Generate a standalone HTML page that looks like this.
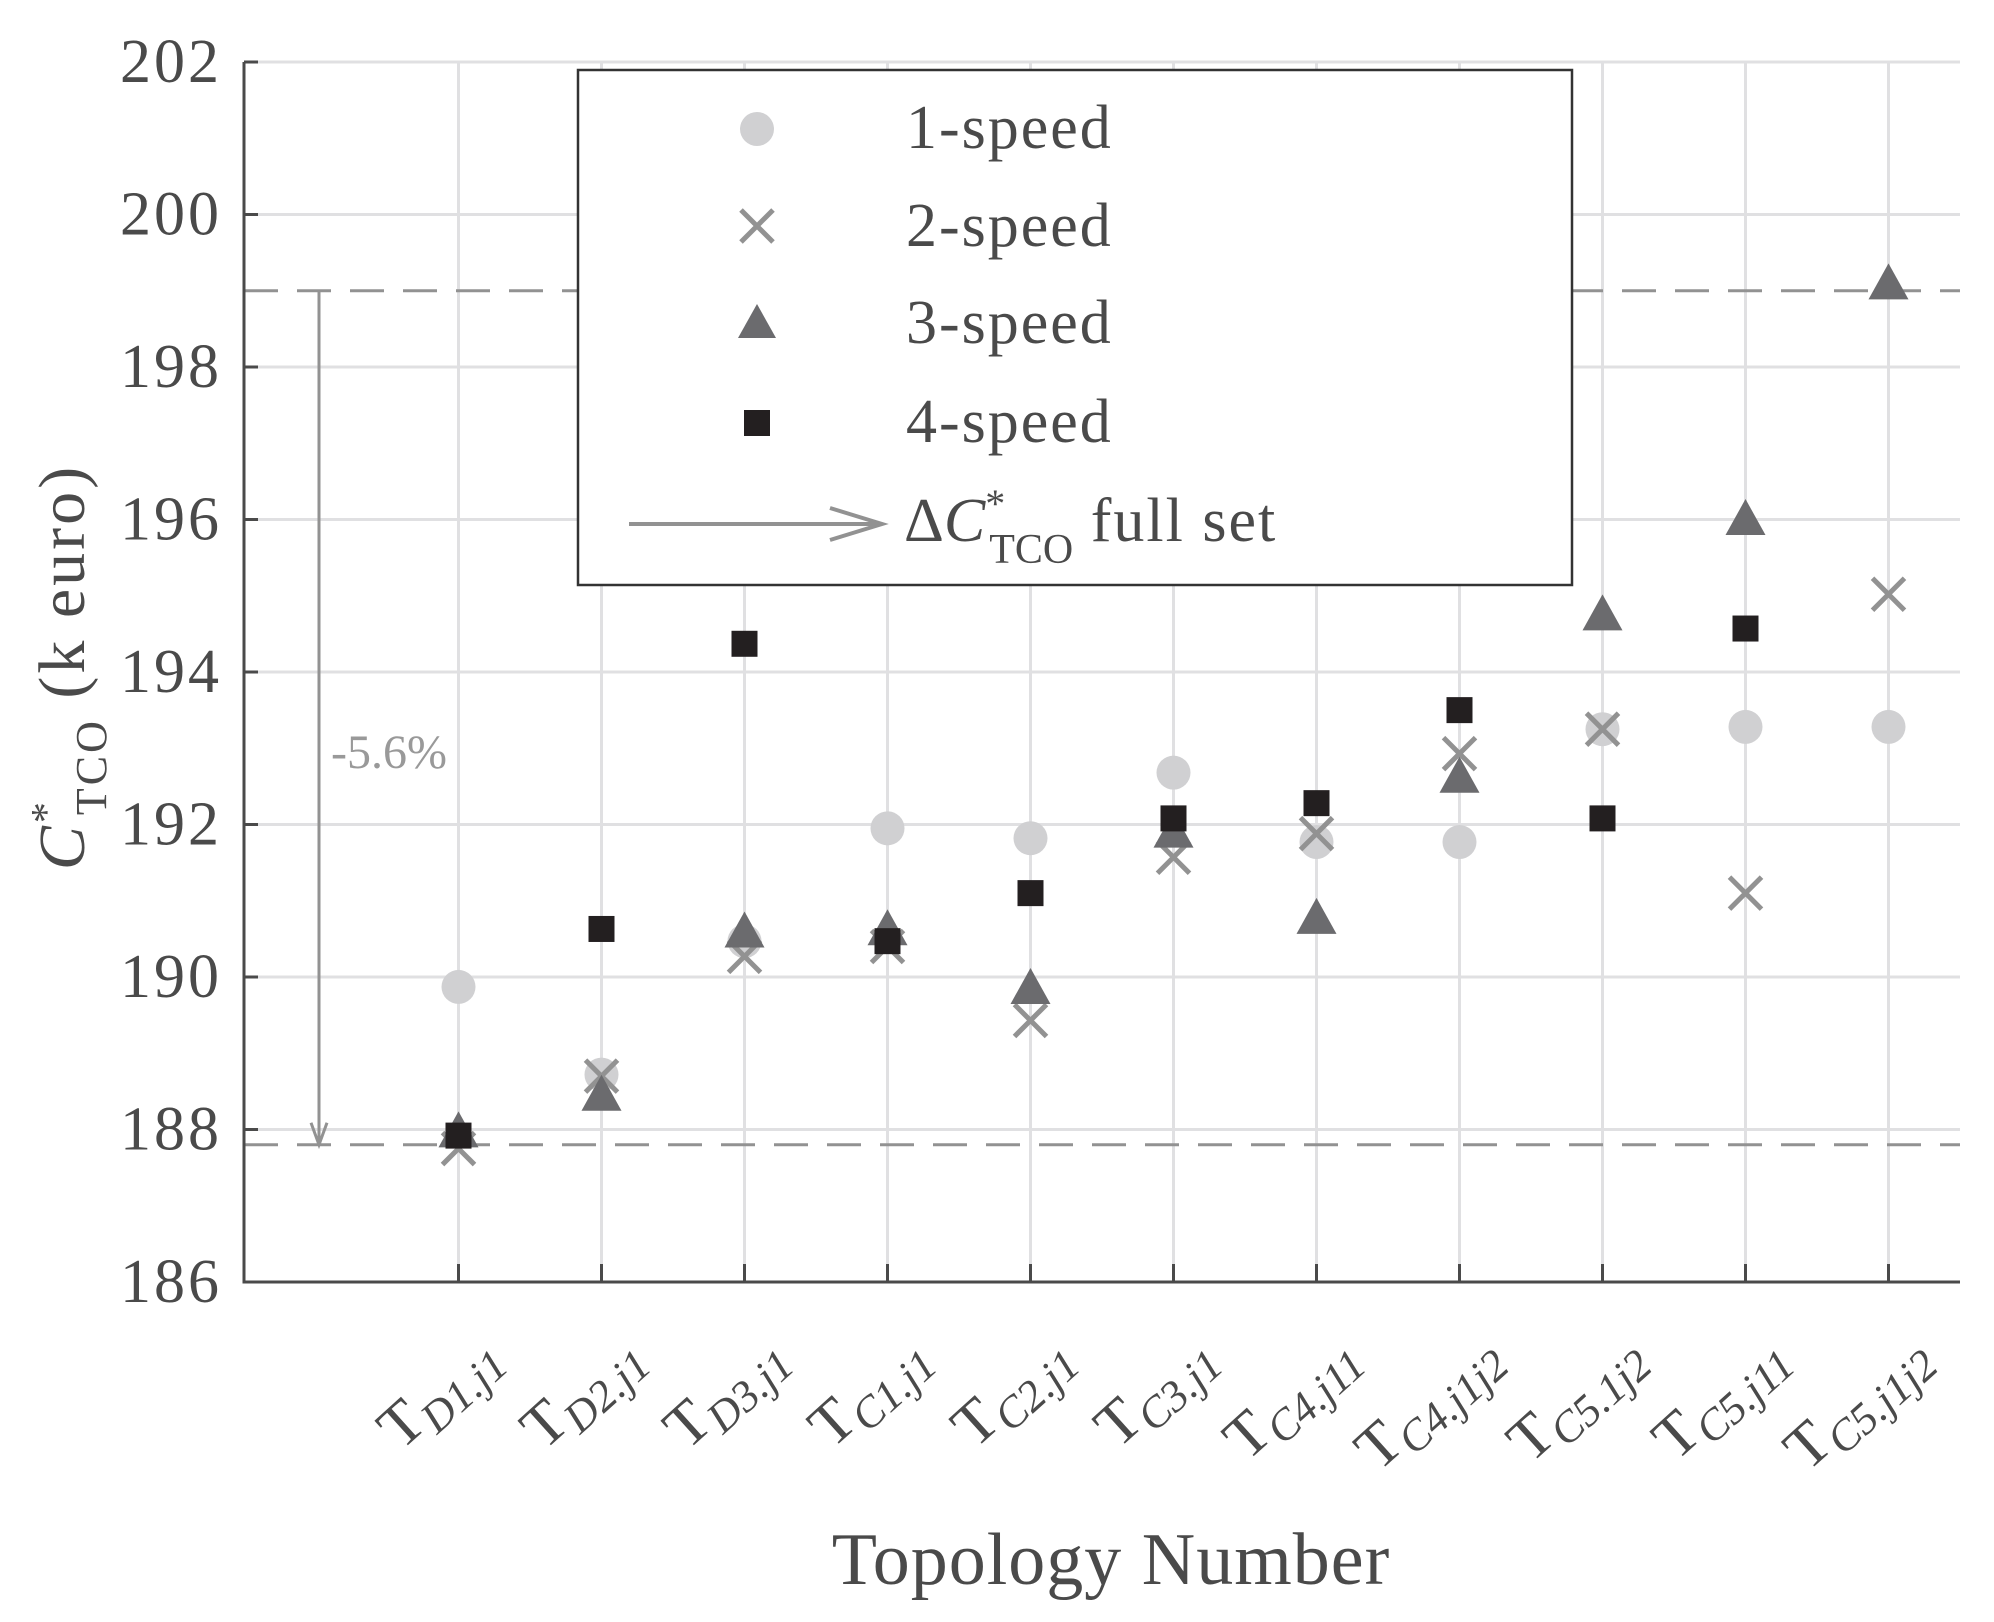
<!DOCTYPE html>
<html><head><meta charset="utf-8"><style>
body{margin:0;background:#fff}
svg text{font-family:"Liberation Serif",serif;fill:#4a4a4a}
</style></head><body>
<svg id="chart" width="1994" height="1617" viewBox="0 0 1994 1617" xmlns="http://www.w3.org/2000/svg">
<g id="grid"></g>
<g id="axes"></g>
<g id="marks"></g>
<g id="legend">
<rect x="578" y="70" width="994" height="515" fill="#fff" stroke="#333" stroke-width="2.5"/>
<circle cx="757" cy="129" r="17" fill="#d0d0d2"/>
<text x="906" y="148" font-size="62" letter-spacing="2">1-speed</text>
<path d="M741 210 L773 242 M773 210 L741 242" stroke="#929292" stroke-width="5"/>
<text x="906" y="246" font-size="62" letter-spacing="2">2-speed</text>
<path d="M757 304 L776 338 L738 338 Z" fill="#6b6b6e"/>
<text x="906" y="343" font-size="62" letter-spacing="2">3-speed</text>
<rect x="744" y="410" width="26" height="26" fill="#231f20"/>
<text x="906" y="442" font-size="62" letter-spacing="2">4-speed</text>
<path d="M629 524 L880 524 M830 508 L882 524 L830 540" stroke="#929292" stroke-width="4" fill="none"/>
<text x="904" y="541" font-size="62">Δ<tspan font-style="italic">C</tspan><tspan font-size="40" dy="-24">*</tspan><tspan font-size="42" dx="-16" dy="46">TCO</tspan><tspan dy="-22" letter-spacing="2"> full set</tspan></text>
</g>
</svg>
<script>
const categories=["D1.j1","D2.j1","D3.j1","C1.j1","C2.j1","C3.j1","C4.j11","C4.j1j2","C5.1j2","C5.j11","C5.j1j2"];
const speed1=[189.87,188.72,190.47,191.95,191.82,192.68,191.77,191.77,193.25,193.28,193.28];
const speed2=[187.75,188.7,190.27,190.4,189.43,191.57,191.88,192.93,193.25,191.1,195.02];
const speed3=[187.95,188.43,190.57,190.6,189.83,191.88,190.75,192.6,194.73,195.98,199.07];
const speed4=[187.92,190.63,194.37,190.47,191.1,192.08,192.28,193.5,192.08,194.57,null];
const yTicks=[186,188,190,192,194,196,198,200,202];
const refLines=[199.0,187.8];
const NS="http://www.w3.org/2000/svg";
const X0=244,X1=1960,Y0=1282,Y1=62,YMIN=186,YMAX=202,IMIN=-1.5,IMAX=10.5;
const xs=i=>X0+(i-IMIN)/(IMAX-IMIN)*(X1-X0);
const ys=v=>Y0-(v-YMIN)/(YMAX-YMIN)*(Y0-Y1);
function mk(tag,attrs,parent){const e=document.createElementNS(NS,tag);for(const k in attrs)e.setAttribute(k,attrs[k]);parent.appendChild(e);return e;}
const grid=document.getElementById('grid'),axes=document.getElementById('axes'),marks=document.getElementById('marks');
yTicks.forEach(t=>{
 const l=mk('line',{x1:X0,x2:X1,y1:ys(t),y2:ys(t),stroke:'#e0e0e2','stroke-width':3},grid);
 
 
 const tk=mk('line',{x1:X0,x2:X0+14,y1:ys(t),y2:ys(t),stroke:'#4a4a4a','stroke-width':3},axes);
 
 
 const tx=mk('text',{x:222,y:ys(t)+20,'text-anchor':'end','font-size':62,'letter-spacing':3},axes);
 tx.textContent=t;
 
 
});
categories.forEach((c,i)=>{
 const x=xs(i);
 const l=mk('line',{x1:x,x2:x,y1:Y1,y2:Y0,stroke:'#e0e0e2','stroke-width':3},grid);
 
 
 const tk=mk('line',{x1:x,x2:x,y1:Y0-18,y2:Y0,stroke:'#4a4a4a','stroke-width':3},axes);
 
 
 const tx=mk('text',{x:x+44,y:1360,'text-anchor':'end','font-size':62,transform:`rotate(-42 ${x+44} 1360)`},axes);
 tx.innerHTML='T<tspan font-style="italic" font-size="44" dy="12">'+c+'</tspan>';
 
 
});
refLines.forEach(v=>{
 const l=mk('line',{x1:X0,x2:X1,y1:ys(v),y2:ys(v),stroke:'#929292','stroke-width':3,'stroke-dasharray':'34 19'},grid);
 
 
});
const ax=mk('path',{d:`M${X0} ${Y1} L${X0} ${Y0} L${X1} ${Y0}`,stroke:'#4a4a4a','stroke-width':3,fill:'none'},axes);


const ay1=ys(refLines[0]),ay2=ys(refLines[1]);
const ar=mk('path',{d:`M319 ${ay1} L319 ${ay2} M311 ${ay2-22} L319 ${ay2} L327 ${ay2-22}`,stroke:'#929292','stroke-width':3,fill:'none'},axes);


const pct=mk('text',{x:331,y:768,'font-size':48,style:'fill:#999'},axes);
pct.textContent='-5.6%';


const yt=mk('text',{x:0,y:0,'text-anchor':'middle','font-size':66,'letter-spacing':3,transform:'translate(84 667) rotate(-90)'},axes);
yt.innerHTML='<tspan font-style="italic">C</tspan><tspan font-size="42" dy="-24">*</tspan><tspan font-size="44" dx="-16" dy="46">TCO</tspan><tspan dy="-22"> (k euro)</tspan>';


const xt=mk('text',{x:1111,y:1584,'text-anchor':'middle','font-size':74,'letter-spacing':1},axes);
xt.textContent='Topology Number';


speed1.forEach((v,i)=>{if(v==null)return;
 const e=mk('circle',{cx:xs(i),cy:ys(v),r:17,fill:'#d0d0d2'},marks);
 
 });
speed2.forEach((v,i)=>{if(v==null)return;const x=xs(i),y=ys(v);
 const e=mk('path',{d:`M${x-16} ${y-16} L${x+16} ${y+16} M${x+16} ${y-16} L${x-16} ${y+16}`,stroke:'#929292','stroke-width':5},marks);
 
 });
speed3.forEach((v,i)=>{if(v==null)return;const x=xs(i),y=ys(v);
 const e=mk('path',{d:`M${x} ${y-22} L${x+20} ${y+14} L${x-20} ${y+14} Z`,fill:'#6b6b6e'},marks);
 
 });
speed4.forEach((v,i)=>{if(v==null)return;
 const e=mk('rect',{x:xs(i)-13,y:ys(v)-13,width:26,height:26,fill:'#231f20'},marks);
 
 });
</script>
</body></html>
